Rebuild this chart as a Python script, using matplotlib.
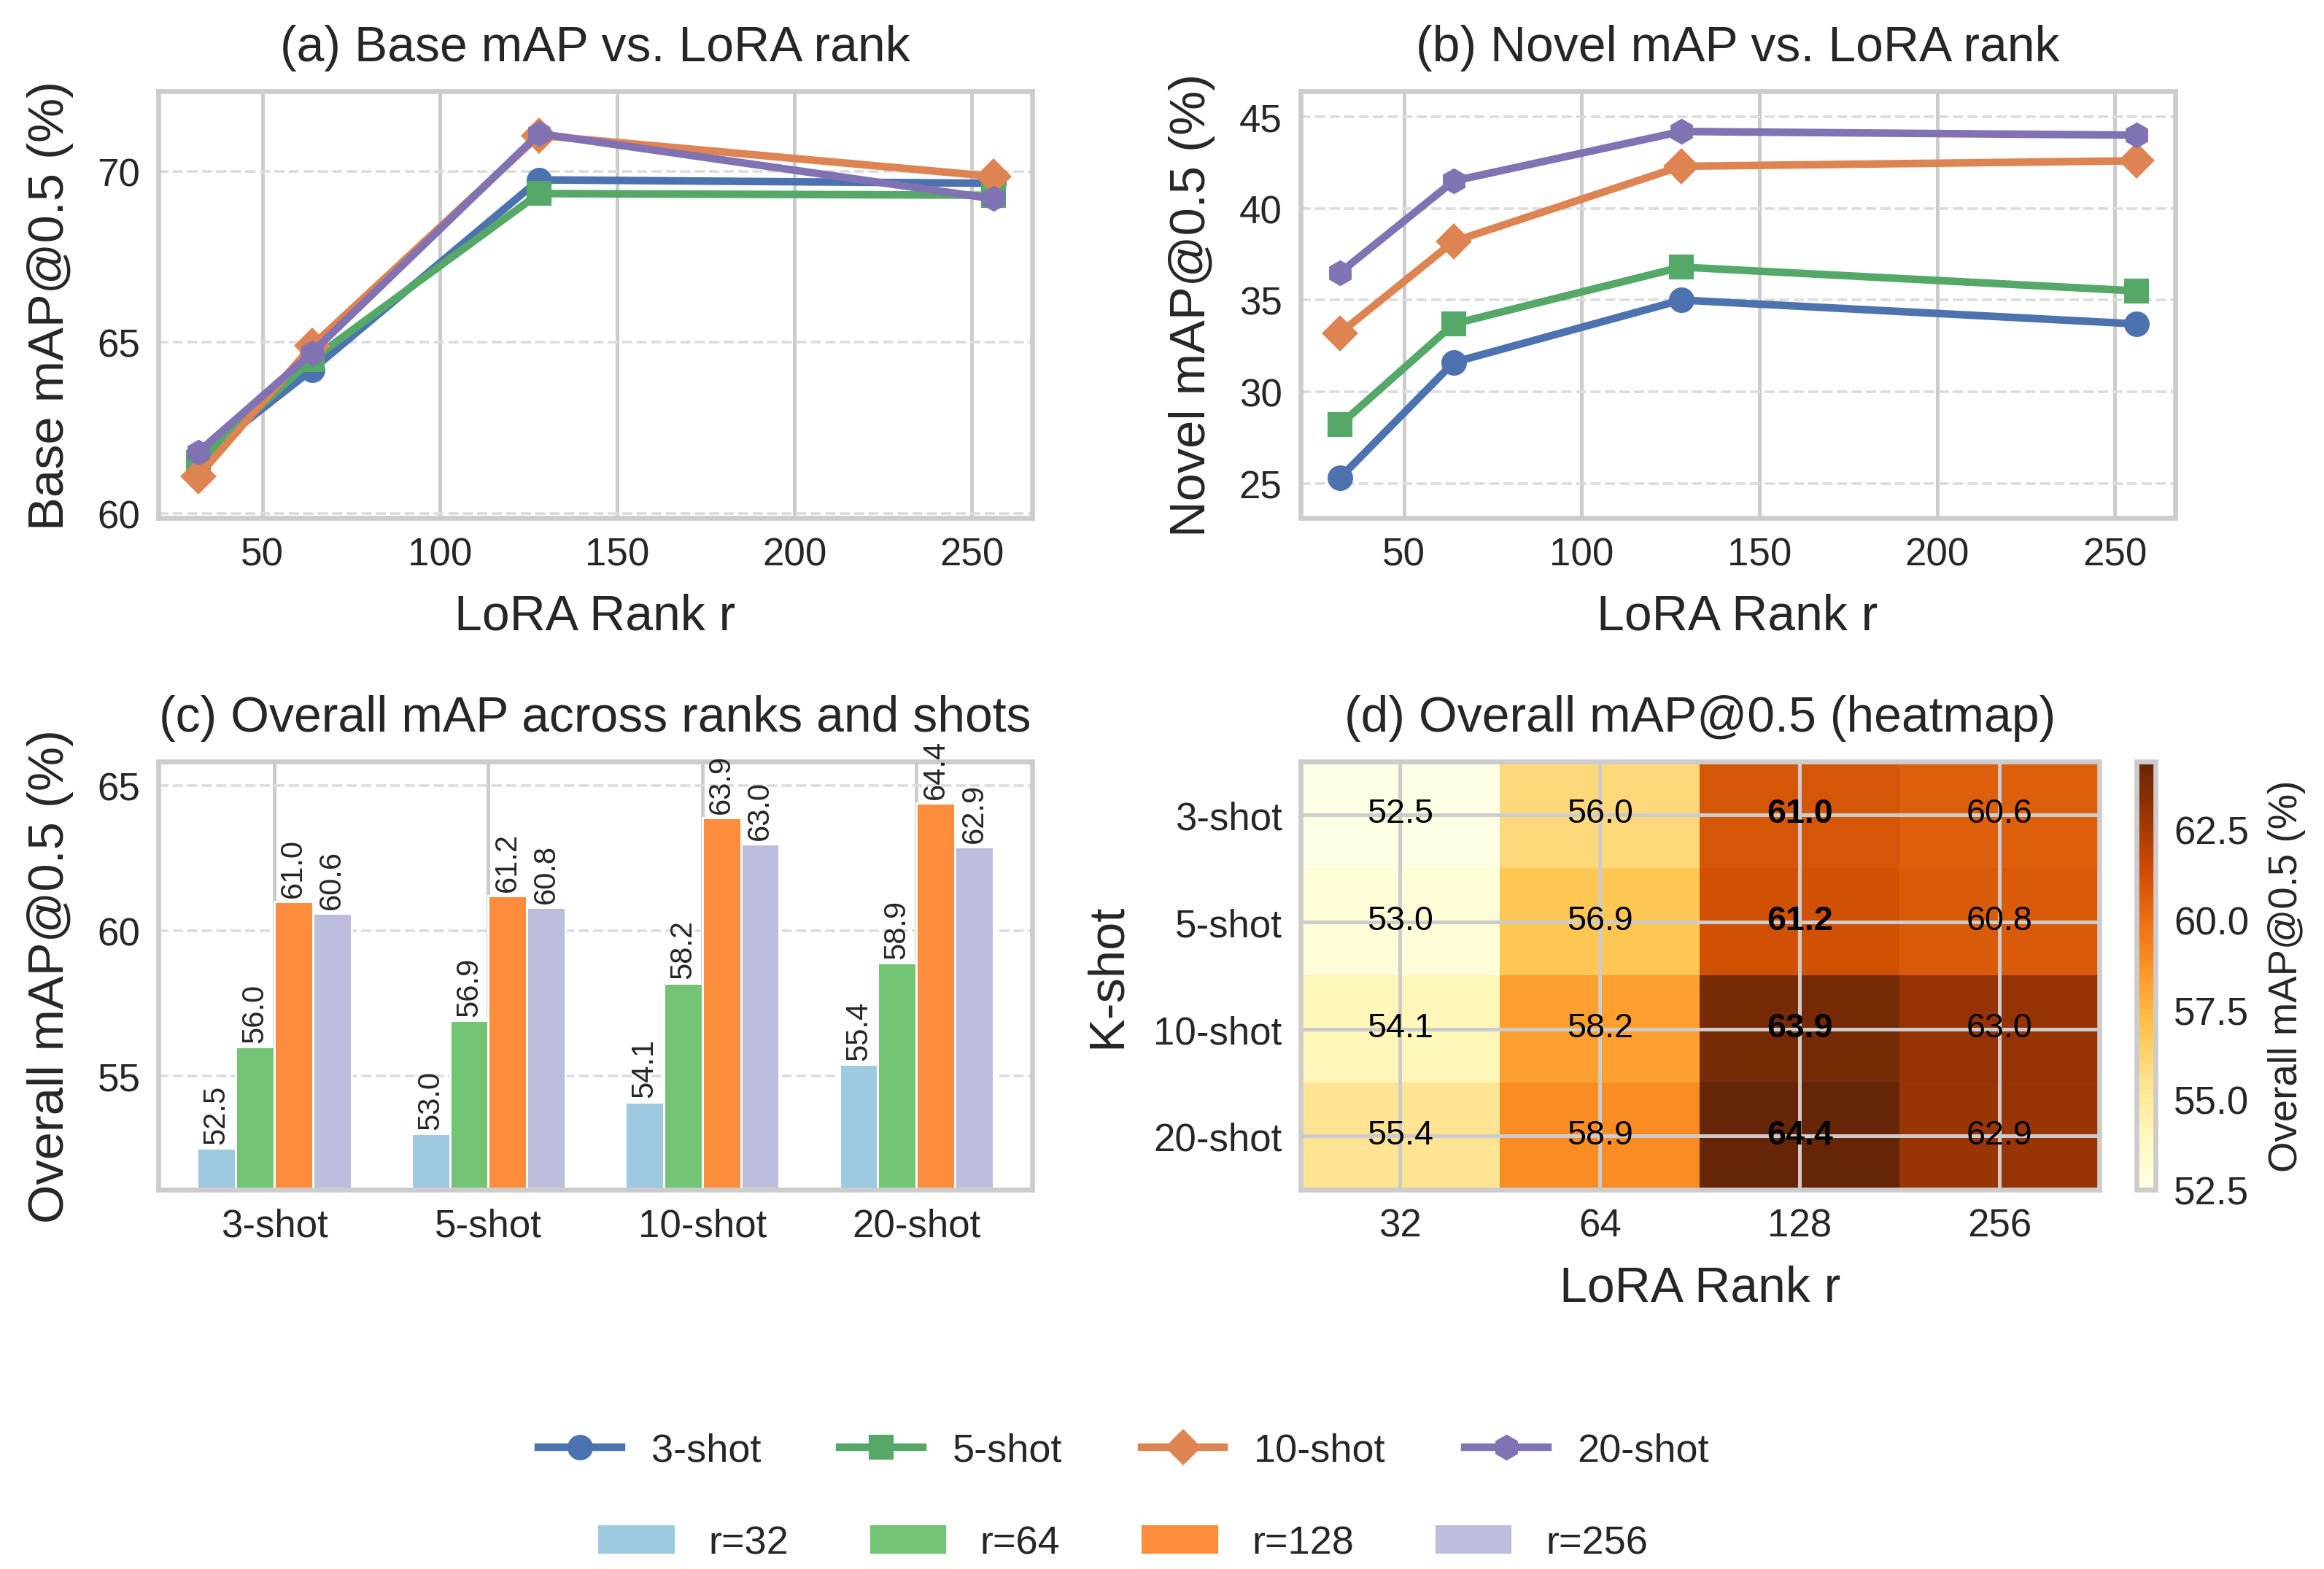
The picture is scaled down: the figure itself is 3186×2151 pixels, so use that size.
import numpy as np
import matplotlib
matplotlib.use("Agg")
from matplotlib import pyplot as plt
from matplotlib.patches import Patch
from matplotlib.lines import Line2D

ranks = [32, 64, 128, 256]
shots = ["3-shot", "5-shot", "10-shot", "20-shot"]
rank_names = ["r=32", "r=64", "r=128", "r=256"]

base_3 = [61.6, 64.2, 69.75, 69.65]
base_5 = [61.5, 64.5, 69.35, 69.3]
base_10 = [61.1, 64.9, 71.05, 69.85]
base_20 = [61.8, 64.7, 71.1, 69.2]

novel_3 = [25.3, 31.6, 35.0, 33.7]
novel_5 = [28.2, 33.7, 36.8, 35.5]
novel_10 = [33.2, 38.2, 42.3, 42.6]
novel_20 = [36.5, 41.5, 44.2, 44.0]

overall_3 = [52.5, 56.0, 61.0, 60.6]
overall_5 = [53.0, 56.9, 61.2, 60.8]
overall_10 = [54.1, 58.2, 63.9, 63.0]
overall_20 = [55.4, 58.9, 64.4, 62.9]

line_colors = ["#4C72B0", "#55A868", "#DD8452", "#8172B3"]
line_markers = ["o", "s", "D", "h"]
marker_sizes = [7.4, 7.4, 7.4, 7.4]
bar_colors = ["#9ecae1", "#74c476", "#fd8d3c", "#bcbddc"]

GRAY = "#cccccc"
DARK = "#262626"

plt.rcParams["font.family"] = ["Liberation Sans", "DejaVu Sans"]
plt.rcParams["text.color"] = DARK
plt.rcParams["axes.labelcolor"] = DARK
plt.rcParams["xtick.color"] = DARK
plt.rcParams["ytick.color"] = DARK


def place(fig, x0, x1, y0, y1):
	# pixel box (1568 wide view)
	W, H = 1568.0, 1059.0
	return fig.add_axes([x0 / W, 1 - y1 / H, (x1 - x0) / W, (y1 - y0) / H])


def style(ax, title, xlabel, ylabel):
	for s in ax.spines.values():
		s.set_color(GRAY)
		s.set_linewidth(1.6)
	ax.tick_params(length=0, labelsize=12.7, pad=6)
	ax.set_title(title, fontsize=16.3, pad=10)
	if xlabel:
		ax.set_xlabel(xlabel, fontsize=16.3, labelpad=6)
	if ylabel:
		ax.set_ylabel(ylabel, fontsize=16.5, labelpad=6)
	ax.xaxis.grid(True, color=GRAY, linewidth=1.2, linestyle="-")
	ax.yaxis.grid(True, color="#dddddd", linewidth=0.9, linestyle="--")
	ax.set_axisbelow(True)


def line_panel(ax, series, title, ylabel, ylim, yticks):
	for vals, c, m, ms in zip(series, line_colors, line_markers, marker_sizes):
		ax.plot(ranks, vals, color=c, marker=m, markersize=ms, linewidth=2.5)
	ax.set_xlim(20.8, 266.9)
	ax.set_ylim(*ylim)
	ax.set_xticks([50, 100, 150, 200, 250])
	ax.set_yticks(yticks)
	style(ax, title, "LoRA Rank r", ylabel)
	ax.yaxis.set_label_coords(-0.097, 0.5)
	ax.xaxis.set_label_coords(0.5, -0.175)


fig = plt.figure(figsize=(10.6233, 7.1733), dpi=300)

ax_a = place(fig, 107, 696, 62, 350)
line_panel(ax_a, [base_3, base_5, base_10, base_20], "(a) Base mAP vs. LoRA rank",
	"Base mAP@0.5 (%)", (59.87, 72.34), [60, 65, 70])

ax_b = place(fig, 877, 1467, 62, 350)
line_panel(ax_b, [novel_3, novel_5, novel_10, novel_20], "(b) Novel mAP vs. LoRA rank",
	"Novel mAP@0.5 (%)", (23.1, 46.4), [25, 30, 35, 40, 45])

# bars, one group per shot
ax_c = place(fig, 107, 696, 514, 803)
overall = np.array([overall_3, overall_5, overall_10, overall_20])
width = 0.18
for i in range(4):
	xs = np.arange(4) + (i - 1.5) * width
	bars = ax_c.bar(xs, overall[:, i], width, color=bar_colors[i], edgecolor="white", linewidth=0.7)
	for b, v in zip(bars, overall[:, i]):
		ax_c.annotate("{:.1f}".format(v), (b.get_x() + b.get_width() / 2, v), xytext=(0, 1.5),
			textcoords="offset points", ha="center", va="bottom", rotation=90, fontsize=10,
			annotation_clip=False)
ax_c.set_xlim(-0.54, 3.54)
ax_c.set_ylim(51.08, 65.85)
ax_c.set_xticks(range(4))
ax_c.set_xticklabels(shots)
ax_c.set_yticks([55, 60, 65])
style(ax_c, "(c) Overall mAP across ranks and shots", None, "Overall mAP@0.5 (%)")
ax_c.yaxis.set_label_coords(-0.097, 0.5)

# heatmap
ax_d = place(fig, 877, 1416, 514, 803)
mesh = ax_d.pcolormesh(np.arange(5), np.arange(5), overall, cmap="YlOrBr", vmin=52.5, vmax=64.4, zorder=1)
ax_d.set_xlim(0, 4)
ax_d.set_ylim(4, 0)
ax_d.set_xticks(np.arange(4) + 0.5)
ax_d.set_xticklabels(ranks)
ax_d.set_yticks(np.arange(4) + 0.5)
ax_d.set_yticklabels(shots)
style(ax_d, "(d) Overall mAP@0.5 (heatmap)", "LoRA Rank r", "K-shot")
ax_d.set_axisbelow(False)
ax_d.yaxis.grid(True, color=GRAY, linewidth=1.2, linestyle="-")
ax_d.yaxis.set_label_coords(-0.212, 0.5)
ax_d.xaxis.set_label_coords(0.5, -0.175)
for r in range(4):
	for c in range(4):
		ax_d.text(c + 0.5, r + 0.49, "{:.1f}".format(overall[r, c]), ha="center", va="center",
			fontsize=11.2, color="black", fontweight="bold" if c == 2 else "normal", zorder=5)

cax = place(fig, 1441, 1454, 514, 803)
cb = fig.colorbar(mesh, cax=cax)
cb.set_ticks([52.5, 55, 57.5, 60, 62.5])
cb.ax.set_yticklabels(["52.5", "55.0", "57.5", "60.0", "62.5"])
cb.ax.tick_params(length=0, labelsize=12.7, pad=6)
cb.outline.set_edgecolor(GRAY)
cb.outline.set_linewidth(1.6)
cb.set_label("Overall mAP@0.5 (%)", fontsize=13.1, labelpad=6)

line_handles = [Line2D([], [], color=c, marker=m, markersize=ms, linewidth=2.5)
	for c, m, ms in zip(line_colors, line_markers, marker_sizes)]
fig.legend(line_handles, shots, loc="center", bbox_to_anchor=(0.4834, 0.0755), ncol=4, frameon=False,
	fontsize=13, handlelength=2.1, handletextpad=0.75, columnspacing=2.0)
bar_handles = [Patch(color=c) for c in bar_colors]
fig.legend(bar_handles, rank_names, loc="center", bbox_to_anchor=(0.4834, 0.0165), ncol=4, frameon=False,
	fontsize=13, handlelength=1.85, handleheight=0.62, handletextpad=0.9, columnspacing=2.1)

fig.savefig("out.png", dpi=300)
